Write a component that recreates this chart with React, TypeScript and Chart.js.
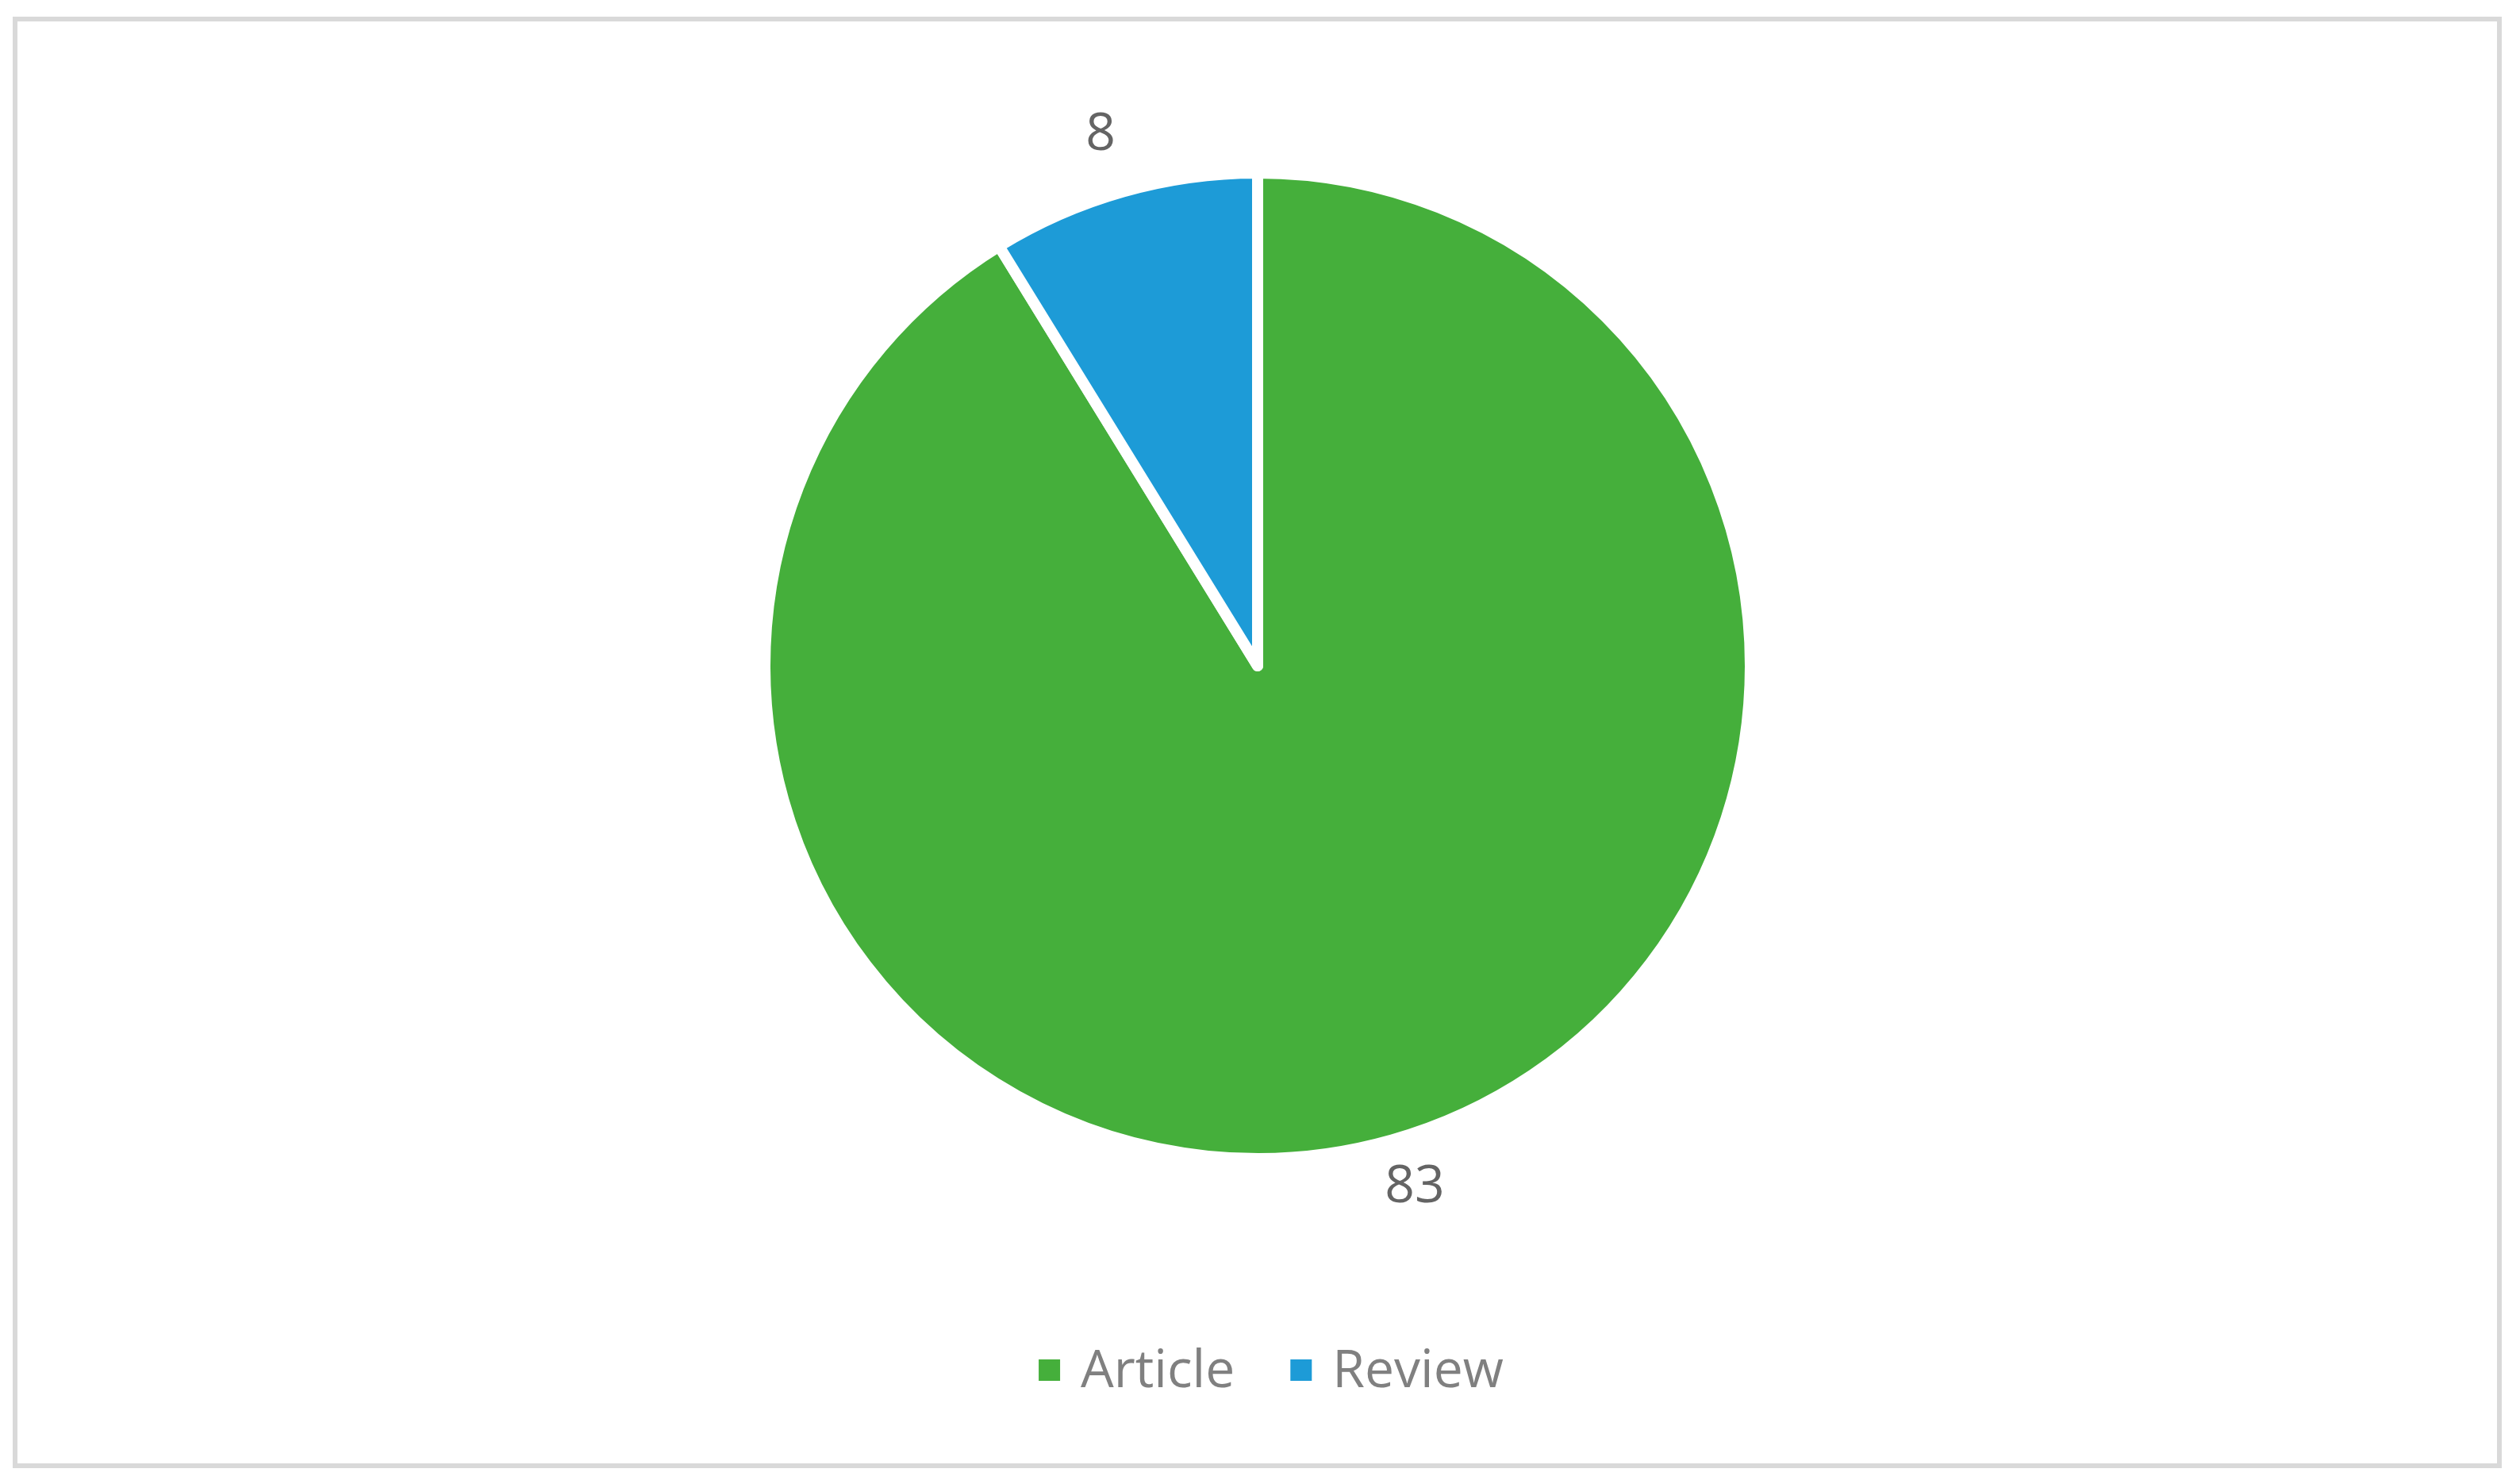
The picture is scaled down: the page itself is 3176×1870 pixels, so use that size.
import React, { useEffect, useRef } from "react";
import { Chart, registerables } from "chart.js";

Chart.register(...registerables);

const categories = ["Article", "Review"];
const counts = [83, 8];
const sliceColors = ["#45AF3B", "#1D9BD7"];

const FONT = '"Open Sans", "Noto Sans", sans-serif';
const FONT_SIZE = 66;
const CAP = 48;

const outsideLabels = {
  id: "outsideLabels",
  afterDatasetsDraw(chart: any) {
    const meta = chart.getDatasetMeta(0);
    const ctx = chart.ctx;
    ctx.save();
    ctx.font = `${FONT_SIZE}px ${FONT}`;
    ctx.fillStyle = "#646464";
    ctx.textAlign = "center";
    ctx.textBaseline = "alphabetic";
    meta.data.forEach((arc: any, i: number) => {
      const p = arc.getProps(["x", "y", "startAngle", "endAngle", "outerRadius"], true);
      const mid = (p.startAngle + p.endAngle) / 2;
      const px = p.x + Math.cos(mid) * (p.outerRadius + 105);
      const py = p.y - 11 + Math.sin(mid) * (p.outerRadius + 68);
      ctx.fillText(String(chart.data.datasets[0].data[i]), px, py + CAP / 2);
    });
    ctx.restore();
  },
};

const bottomLegend = {
  id: "bottomLegend",
  afterDraw(chart: any) {
    const ctx = chart.ctx;
    const labels: string[] = chart.data.labels;
    const colors: string[] = chart.data.datasets[0].backgroundColor;
    const box = 27;
    const textGap = 26;
    const itemGap = 70;
    ctx.save();
    ctx.font = `${FONT_SIZE}px ${FONT}`;
    const widths = labels.map((l) => ctx.measureText(l).width);
    let total = 0;
    widths.forEach((w, i) => {
      total += box + textGap + w + (i < widths.length - 1 ? itemGap : 0);
    });
    const centerX = 1602;
    const baseline = 1748;
    let x = centerX - total / 2;
    labels.forEach((l, i) => {
      ctx.fillStyle = colors[i];
      ctx.fillRect(x, baseline - 35, box, box);
      x += box + textGap;
      ctx.fillStyle = "#808080";
      ctx.textAlign = "left";
      ctx.textBaseline = "alphabetic";
      ctx.fillText(l, x, baseline);
      x += widths[i] + itemGap;
    });
    ctx.restore();
  },
};

export default function App() {
  const ref = useRef<HTMLCanvasElement | null>(null);

  useEffect(() => {
    document.body.style.margin = "0";
    document.body.style.overflow = "hidden";
    if (!ref.current) return;
    const chart = new Chart(ref.current, {
      type: "pie",
      data: {
        labels: categories,
        datasets: [
          {
            data: counts,
            backgroundColor: sliceColors,
            borderColor: "#ffffff",
            borderWidth: 14,
            borderJoinStyle: "round",
          } as any,
        ],
      },
      options: {
        animation: false,
        responsive: false,
        maintainAspectRatio: false,
        layout: { padding: { top: 211, bottom: 403, left: 0, right: 6 } },
        plugins: {
          legend: { display: false },
          tooltip: { enabled: false },
        },
      },
      plugins: [outsideLabels, bottomLegend],
    });
    return () => chart.destroy();
  }, []);

  return (
    <div style={{ position: "absolute", left: 0, top: 0, width: 3176, height: 1870, background: "#ffffff" }}>
      <div
        style={{
          position: "absolute",
          left: 16,
          top: 21,
          width: 3137,
          height: 1829,
          border: "6.5px solid #d9d9d9",
          boxSizing: "border-box",
        }}
      />
      <canvas ref={ref} width={3176} height={1870} style={{ position: "absolute", left: 0, top: 0, width: 3176, height: 1870 }} />
    </div>
  );
}
